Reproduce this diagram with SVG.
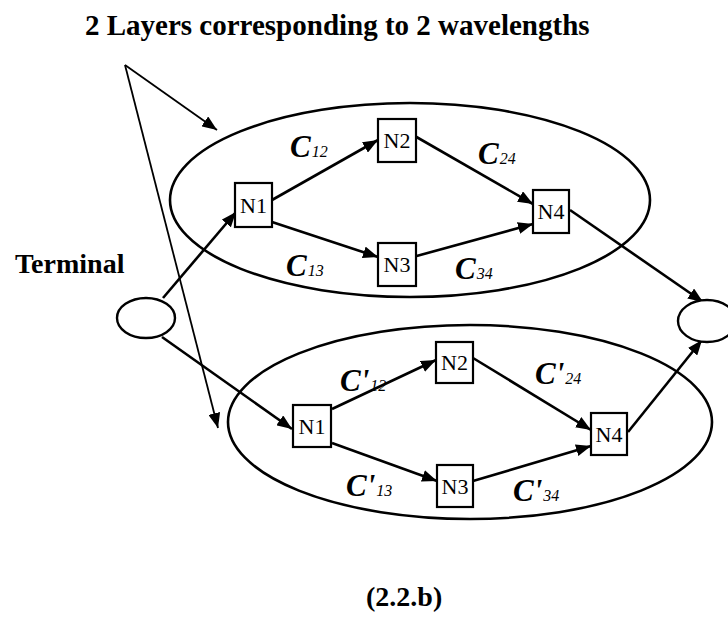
<svg xmlns="http://www.w3.org/2000/svg" width="728" height="617" viewBox="0 0 728 617">
  <style>
    .lbl { font-family: "Liberation Serif", "Times New Roman", serif; font-weight: bold; fill: #000; }
    .node rect { fill: #fff; stroke: #000; stroke-width: 2.2; }
    .node text { font-family: "Liberation Serif", "Times New Roman", serif; font-size: 22px; text-anchor: middle; fill: #000; }
    .layer { fill: none; stroke: #000; stroke-width: 2.6; }
    .term { fill: #fff; stroke: #000; stroke-width: 2.4; }
    .edge { stroke: #000; stroke-width: 2.6; fill: none; marker-end: url(#arrow); }
    .pointer { stroke: #000; stroke-width: 1.8; fill: none; marker-end: url(#arrow); }
    .cap { font-family: "Liberation Serif", "Times New Roman", serif; font-style: italic; font-weight: bold; font-size: 31px; fill: #000; }
    .sub { font-family: "Liberation Serif", "Times New Roman", serif; font-style: italic; font-size: 16px; fill: #000; }
  </style>
  <defs>
    <marker id="arrow" markerUnits="userSpaceOnUse" markerWidth="16" markerHeight="12" refX="15" refY="6" orient="auto">
      <path d="M0,0 L15,6 L0,12 z" fill="#000"/>
    </marker>
  </defs>

  <rect width="728" height="617" fill="#fff"/>

  <!-- headings -->
  <text class="lbl" x="85" y="35" font-size="29">2 Layers corresponding to 2 wavelengths</text>
  <text class="lbl" x="15" y="273" font-size="28">Terminal</text>
  <text class="lbl" x="366" y="606" font-size="28">(2.2.b)</text>

  <!-- wavelength layers -->
  <ellipse id="layer1" class="layer" cx="410" cy="200" rx="240" ry="97"/>
  <ellipse id="layer2" class="layer" cx="470" cy="422" rx="242" ry="97"/>

  <!-- connectors -->
  <g id="connectors">
    <line class="pointer" x1="125" y1="65" x2="217" y2="130"/>
    <line class="pointer" x1="125" y1="65" x2="218" y2="428"/>

    <line class="edge" x1="163" y1="298" x2="236" y2="212"/>
    <line class="edge" x1="272" y1="200" x2="378" y2="140"/>
    <line class="edge" x1="272" y1="222" x2="378" y2="257"/>
    <line class="edge" x1="413" y1="135" x2="533" y2="204"/>
    <line class="edge" x1="413" y1="257" x2="533" y2="224"/>
    <line class="edge" x1="570" y1="210" x2="703" y2="302"/>

    <line class="edge" x1="162" y1="337" x2="292" y2="429"/>
    <line class="edge" x1="332" y1="409" x2="436" y2="360"/>
    <line class="edge" x1="332" y1="443" x2="437" y2="481"/>
    <line class="edge" x1="473" y1="358" x2="591" y2="430"/>
    <line class="edge" x1="473" y1="481" x2="591" y2="446"/>
    <line class="edge" x1="628" y1="432" x2="702" y2="340"/>
  </g>

  <!-- terminals -->
  <g id="term-left"><ellipse class="term" cx="146" cy="318" rx="29" ry="20"/></g>
  <g id="term-right"><ellipse class="term" cx="707" cy="321" rx="29" ry="21"/></g>

  <!-- layer 1 nodes -->
  <g id="l1-n1" class="node"><rect x="235" y="183" width="37" height="44"/><text x="253.5" y="213">N1</text></g>
  <g id="l1-n2" class="node"><rect x="378" y="119" width="38" height="43"/><text x="397" y="148">N2</text></g>
  <g id="l1-n3" class="node"><rect x="378" y="243" width="38" height="43"/><text x="397" y="272">N3</text></g>
  <g id="l1-n4" class="node"><rect x="533" y="190" width="36" height="43"/><text x="551" y="219">N4</text></g>

  <!-- layer 2 nodes -->
  <g id="l2-n1" class="node"><rect x="293" y="405" width="38" height="42"/><text x="312" y="434">N1</text></g>
  <g id="l2-n2" class="node"><rect x="436" y="342" width="37" height="41"/><text x="454.5" y="370">N2</text></g>
  <g id="l2-n3" class="node"><rect x="437" y="465" width="36" height="42"/><text x="455" y="494">N3</text></g>
  <g id="l2-n4" class="node"><rect x="591" y="413" width="36" height="42"/><text x="609" y="442">N4</text></g>

  <!-- link capacities, layer 1 -->
  <text x="290" y="157"><tspan class="cap">C</tspan><tspan class="sub" dx="1">12</tspan></text>
  <text x="286" y="276"><tspan class="cap">C</tspan><tspan class="sub" dx="1">13</tspan></text>
  <text x="478" y="164"><tspan class="cap">C</tspan><tspan class="sub" dx="1">24</tspan></text>
  <text x="455" y="279"><tspan class="cap">C</tspan><tspan class="sub" dx="1">34</tspan></text>

  <!-- link capacities, layer 2 -->
  <text x="340" y="391"><tspan class="cap">C'</tspan><tspan class="sub" dx="1">12</tspan></text>
  <text x="346" y="496"><tspan class="cap">C'</tspan><tspan class="sub" dx="1">13</tspan></text>
  <text x="535" y="384"><tspan class="cap">C'</tspan><tspan class="sub" dx="1">24</tspan></text>
  <text x="513" y="501"><tspan class="cap">C'</tspan><tspan class="sub" dx="1">34</tspan></text>
</svg>
